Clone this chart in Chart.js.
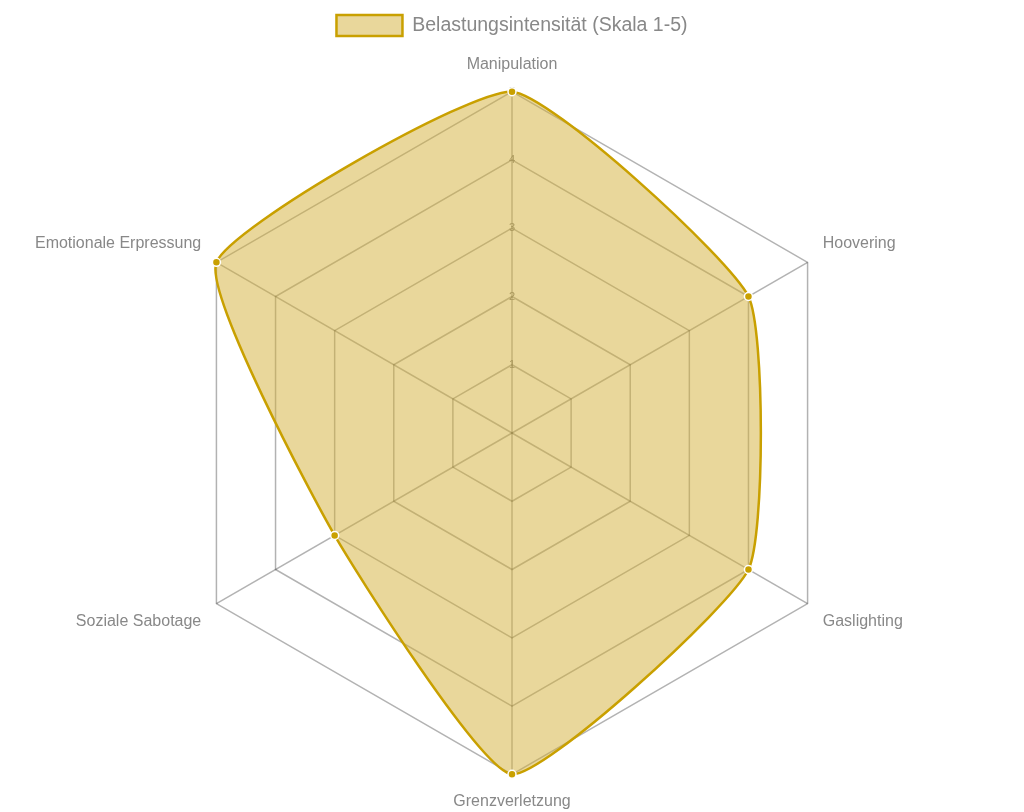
<!DOCTYPE html>
<html><head><meta charset="utf-8">
<script src="https://cdn.jsdelivr.net/npm/chart.js@4.4.0/dist/chart.umd.min.js"></script>
<style>html,body{margin:0;padding:0;background:#fff}#wrap{width:1024px;height:812px;position:relative}</style>
</head><body><div id="wrap"><canvas id="c"></canvas></div>
<script>
const categories = ["Manipulation", "Hoovering", "Gaslighting", "Grenzverletzung", "Soziale Sabotage", "Emotionale Erpressung"];
const seriesLabel = "Belastungsintensität (Skala 1-5)";
const values = [5, 4, 4, 5, 3, 5];
const tickValues = [1, 2, 3, 4, 5];

Chart.defaults.font.family = "Arial, 'Liberation Sans', sans-serif";

const spacerPlugin = {
  id: 'spacer',
  beforeInit(chart) {
    const box = {
      position: 'top', weight: 500, fullSize: true, options: {},
      width: 0, height: 0, top: 0, left: 0, right: 0, bottom: 0,
      isHorizontal() { return true; },
      update(maxWidth) { this.width = maxWidth; this.height = 9; return { w: this.width, h: this.height }; },
      draw() {}
    };
    Chart.layouts.addBox(chart, box);
  }
};

new Chart(document.getElementById('c'), {
  type: 'radar',
  plugins: [spacerPlugin],
  data: {
    labels: categories,
    datasets: [{
      label: seriesLabel,
      data: values,
      backgroundColor: 'rgba(212,175,55,0.5)',
      borderColor: '#c9a000',
      borderWidth: 2.5,
      tension: 0.15,
      pointRadius: 4,
      pointBackgroundColor: '#c9a000',
      pointBorderColor: '#fff',
      pointBorderWidth: 1.5
    }]
  },
  options: {
    responsive: true,
    maintainAspectRatio: false,
    animation: false,
    layout: { padding: { top: -2, bottom: 0 } },
    plugins: {
      legend: {
        labels: { color: '#888', font: { size: 19.5 }, boxWidth: 66, boxHeight: 21, padding: 17 }
      }
    },
    scales: {
      r: {
        min: 0, max: 5,
        ticks: { stepSize: 1, showLabelBackdrop: false, color: '#808080', font: { size: 11 },
          callback: (v) => tickValues.includes(v) ? String(v) : '' },
        grid: { color: 'rgba(0,0,0,0.3)', lineWidth: 1.5 },
        angleLines: { color: 'rgba(0,0,0,0.3)', lineWidth: 1.5 },
        pointLabels: { color: '#888', font: { size: 16 }, padding: 10 }
      }
    }
  }
});
</script></body></html>
